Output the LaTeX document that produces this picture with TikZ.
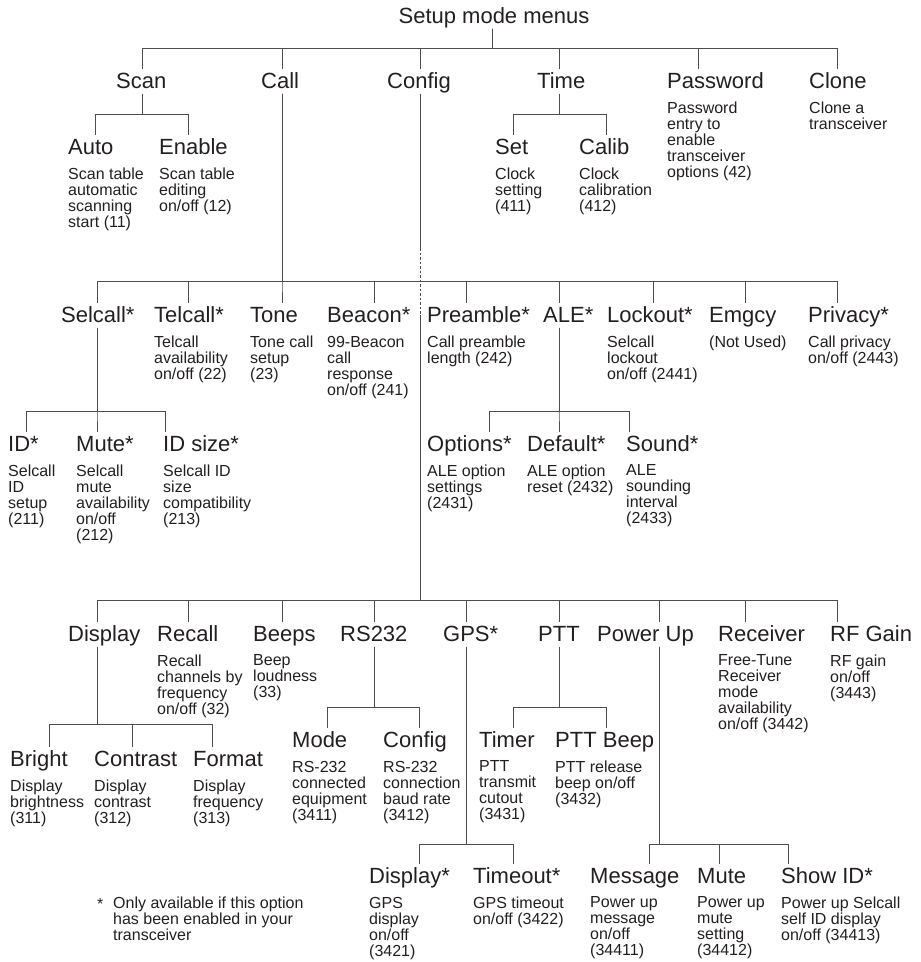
\documentclass[tikz,border=0pt]{standalone}
\usepackage{fontspec}
\setmainfont{Liberation Sans}
\usepackage{tikz}
\usetikzlibrary{positioning}
\definecolor{ink}{HTML}{231F20}

\begin{document}
\begin{tikzpicture}[
  x=1pt, y=1pt,
  hd/.style={anchor=base west, inner xsep=0pt, inner ysep=3pt, text height=16pt, text depth=2.5pt, font=\fontsize{22}{24}\selectfont, text=ink},
  ds/.style={inner sep=0pt, align=left, font=\fontsize{16}{16}\selectfont, text=ink},
  ln/.style={draw=ink!80, line width=0.8pt}
]
  \useasboundingbox (0,0) rectangle (921,-962);

  \node[hd, anchor=base] (title) at (494,-23) {Setup mode menus};
  \node[hd] (scan) at (116,-88) {Scan};
  \node[hd] (call) at (261,-88) {Call};
  \node[hd] (config) at (387,-88) {Config};
  \node[hd] (time) at (537,-88) {Time};
  \node[hd] (password) at (667,-88) {Password};
  \node[hd] (clone) at (809,-88) {Clone};
  \node[ds, below right=8pt and 0pt of password.south west] (passwordd) {Password\\entry to\\enable\\transceiver\\options (42)};
  \node[ds, below right=8pt and 0pt of clone.south west] (cloned) {Clone a\\transceiver};

  \node[hd] (auto) at (68,-154) {Auto};
  \node[hd] (enable) at (159,-154) {Enable};
  \node[hd] (set) at (495,-154) {Set};
  \node[hd] (calib) at (579,-154) {Calib};
  \node[ds, below right=8pt and 0pt of auto.south west] (autod) {Scan table\\automatic\\scanning\\start (11)};
  \node[ds, below right=8pt and 0pt of enable.south west] (enabled) {Scan table\\editing\\on/off (12)};
  \node[ds, below right=8pt and 0pt of set.south west] (setd) {Clock\\setting\\(411)};
  \node[ds, below right=8pt and 0pt of calib.south west] (calibd) {Clock\\calibration\\(412)};

  \node[hd] (selcall) at (61,-322) {Selcall*};
  \node[hd] (telcall) at (154,-322) {Telcall*};
  \node[hd] (tone) at (250,-322) {Tone};
  \node[hd] (beacon) at (327,-322) {Beacon*};
  \node[hd] (preamble) at (427,-322) {Preamble*};
  \node[hd] (ale) at (543,-322) {ALE*};
  \node[hd] (lockout) at (607,-322) {Lockout*};
  \node[hd] (emgcy) at (709,-322) {Emgcy};
  \node[hd] (privacy) at (808,-322) {Privacy*};
  \node[ds, below right=8pt and 0pt of telcall.south west] (telcalld) {Telcall\\availability\\on/off (22)};
  \node[ds, below right=8pt and 0pt of tone.south west] (toned) {Tone call\\setup\\(23)};
  \node[ds, below right=8pt and 0pt of beacon.south west] (beacond) {99-Beacon\\call\\response\\on/off (241)};
  \node[ds, below right=8pt and 0pt of preamble.south west] (preambled) {Call preamble\\length (242)};
  \node[ds, below right=8pt and 0pt of lockout.south west] (lockoutd) {Selcall\\lockout\\on/off (2441)};
  \node[ds, below right=8pt and 0pt of emgcy.south west] (emgcyd) {(Not Used)};
  \node[ds, below right=8pt and 0pt of privacy.south west] (privacyd) {Call privacy\\on/off (2443)};

  \node[hd] (id) at (8,-451) {ID*};
  \node[hd] (mute) at (76,-451) {Mute*};
  \node[hd] (idsize) at (163,-451) {ID size*};
  \node[hd] (options) at (427,-451) {Options*};
  \node[hd] (default) at (527,-451) {Default*};
  \node[hd] (sound) at (626,-451) {Sound*};
  \node[ds, below right=8pt and 0pt of id.south west] (idd) {Selcall\\ID\\setup\\(211)};
  \node[ds, below right=8pt and 0pt of mute.south west] (muted) {Selcall\\mute\\availability\\on/off\\(212)};
  \node[ds, below right=8pt and 0pt of idsize.south west] (idsized) {Selcall ID\\size\\compatibility\\(213)};
  \node[ds, below right=8pt and 0pt of options.south west] (optionsd) {ALE option\\settings\\(2431)};
  \node[ds, below right=8pt and 0pt of default.south west] (defaultd) {ALE option\\reset (2432)};
  \node[ds, below right=8pt and 0pt of sound.south west] (soundd) {ALE\\sounding\\interval\\(2433)};

  \node[hd] (display) at (68,-641) {Display};
  \node[hd] (recall) at (157,-641) {Recall};
  \node[hd] (beeps) at (253,-641) {Beeps};
  \node[hd] (rs232) at (340,-641) {RS232};
  \node[hd] (gps) at (443,-641) {GPS*};
  \node[hd] (ptt) at (538,-641) {PTT};
  \node[hd] (powerup) at (597,-641) {Power Up};
  \node[hd] (receiver) at (718,-641) {Receiver};
  \node[hd] (rfgain) at (830,-641) {RF Gain};
  \node[ds, below right=8pt and 0pt of recall.south west] (recalld) {Recall\\channels by\\frequency\\on/off (32)};
  \node[ds, below right=8pt and 0pt of beeps.south west] (beepsd) {Beep\\loudness\\(33)};
  \node[ds, below right=8pt and 0pt of receiver.south west] (receiverd) {Free-Tune\\Receiver\\mode\\availability\\on/off (3442)};
  \node[ds, below right=8pt and 0pt of rfgain.south west] (rfgaind) {RF gain\\on/off\\(3443)};

  \node[hd] (bright) at (10,-766) {Bright};
  \node[hd] (contrast) at (94,-766) {Contrast};
  \node[hd] (format) at (193,-766) {Format};
  \node[hd] (mode) at (292,-747) {Mode};
  \node[hd] (rsconfig) at (383,-747) {Config};
  \node[hd] (timer) at (479,-747) {Timer};
  \node[hd] (pttbeep) at (555,-747) {PTT Beep};
  \node[ds, below right=8pt and 0pt of bright.south west] (brightd) {Display\\brightness\\(311)};
  \node[ds, below right=8pt and 0pt of contrast.south west] (contrastd) {Display\\contrast\\(312)};
  \node[ds, below right=8pt and 0pt of format.south west] (formatd) {Display\\frequency\\(313)};
  \node[ds, below right=8pt and 0pt of mode.south west] (moded) {RS-232\\connected\\equipment\\(3411)};
  \node[ds, below right=8pt and 0pt of rsconfig.south west] (rsconfigd) {RS-232\\connection\\baud rate\\(3412)};
  \node[ds, below right=8pt and 0pt of timer.south west] (timerd) {PTT\\transmit\\cutout\\(3431)};
  \node[ds, below right=8pt and 0pt of pttbeep.south west] (pttbeepd) {PTT release\\beep on/off\\(3432)};

  \node[hd] (gpsdisplay) at (369,-883) {Display*};
  \node[hd] (timeout) at (473,-883) {Timeout*};
  \node[hd] (message) at (590,-883) {Message};
  \node[hd] (pumute) at (697,-883) {Mute};
  \node[hd] (showid) at (781,-883) {Show ID*};
  \node[ds, below right=8pt and 0pt of gpsdisplay.south west] (gpsdisplayd) {GPS\\display\\on/off\\(3421)};
  \node[ds, below right=8pt and 0pt of timeout.south west] (timeoutd) {GPS timeout\\on/off (3422)};
  \node[ds, below right=8pt and 0pt of message.south west] (messaged) {Power up\\message\\on/off\\(34411)};
  \node[ds, below right=8pt and 0pt of pumute.south west] (pumuted) {Power up\\mute\\setting\\(34412)};
  \node[ds, below right=8pt and 0pt of showid.south west] (showidd) {Power up Selcall\\self ID display\\on/off (34413)};

  \node[ds, anchor=north west] (note) at (113,-897) {Only available if this option\\has been enabled in your\\transceiver};
  \node[ds, anchor=base west] (star) at (97,-909) {*};

  \draw[ln] (title.south -| 492,0) -- ++(0,-19.5) -| (scan.north -| 142,0);
  \draw[ln] (title.south -| 492,0) -- ++(0,-19.5) -| (call.north -| 282,0);
  \draw[ln] (title.south -| 492,0) -- ++(0,-19.5) -| (config.north -| 420,0);
  \draw[ln] (title.south -| 492,0) -- ++(0,-19.5) -| (time.north -| 559,0);
  \draw[ln] (title.south -| 492,0) -- ++(0,-19.5) -| (password.north -| 698,0);
  \draw[ln] (title.south -| 492,0) -- ++(0,-19.5) -| (clone.north -| 837,0);

  \draw[ln] (scan.south -| 142,0) -- ++(0,-20.5) -| (auto.north -| 95,0);
  \draw[ln] (scan.south -| 142,0) -- ++(0,-20.5) -| (enable.north -| 188,0);
  \draw[ln] (time.south -| 559,0) -- ++(0,-20.5) -| (set.north -| 513,0);
  \draw[ln] (time.south -| 559,0) -- ++(0,-20.5) -| (calib.north -| 606,0);

  \draw[ln] (call.south -| 282,0) -- ++(0,-187.5) -| (selcall.north -| 97,0);
  \draw[ln] (call.south -| 282,0) -- ++(0,-187.5) -| (telcall.north -| 188,0);
  \draw[ln] (call.south -| 282,0) -- ++(0,-187.5) -| (tone.north -| 282,0);
  \draw[ln] (call.south -| 282,0) -- ++(0,-187.5) -| (beacon.north -| 374,0);
  \draw[ln] (call.south -| 282,0) -- ++(0,-187.5) -| (preamble.north -| 466,0);
  \draw[ln] (call.south -| 282,0) -- ++(0,-187.5) -| (ale.north -| 559,0);
  \draw[ln] (call.south -| 282,0) -- ++(0,-187.5) -| (lockout.north -| 653,0);
  \draw[ln] (call.south -| 282,0) -- ++(0,-187.5) -| (emgcy.north -| 745,0);
  \draw[ln] (call.south -| 282,0) -- ++(0,-187.5) -| (privacy.north -| 837,0);

  \draw[ln] (selcall.south -| 97,0) -- ++(0,-83.5) -| (id.north -| 26,0);
  \draw[ln] (selcall.south -| 97,0) -- ++(0,-83.5) -| (mute.north -| 97,0);
  \draw[ln] (selcall.south -| 97,0) -- ++(0,-83.5) -| (idsize.north -| 165,0);
  \draw[ln] (ale.south -| 559,0) -- ++(0,-83.5) -| (options.north -| 489,0);
  \draw[ln] (ale.south -| 559,0) -- ++(0,-83.5) -| (default.north -| 559,0);
  \draw[ln] (ale.south -| 559,0) -- ++(0,-83.5) -| (sound.north -| 629,0);

  \draw[ln] (config.south -| 420,0) -- ++(0,-154.5) coordinate (cross1);
  \draw[ln, dash pattern=on 2.5pt off 2pt] (cross1) -- ++(0,-67) coordinate (cross2);
  \draw[ln] (cross2) -- ++(0,-285) -| (display.north -| 97,0);
  \draw[ln] (cross2) -- ++(0,-285) -| (recall.north -| 188,0);
  \draw[ln] (cross2) -- ++(0,-285) -| (beeps.north -| 282,0);
  \draw[ln] (cross2) -- ++(0,-285) -| (rs232.north -| 374,0);
  \draw[ln] (cross2) -- ++(0,-285) -| (gps.north -| 466,0);
  \draw[ln] (cross2) -- ++(0,-285) -| (ptt.north -| 559,0);
  \draw[ln] (cross2) -- ++(0,-285) -| (powerup.north -| 659,0);
  \draw[ln] (cross2) -- ++(0,-285) -| (receiver.north -| 745,0);
  \draw[ln] (cross2) -- ++(0,-285) -| (rfgain.north -| 837,0);

  \draw[ln] (display.south -| 97,0) -- ++(0,-77.5) -| (bright.north -| 49,0);
  \draw[ln] (display.south -| 97,0) -- ++(0,-77.5) -| (contrast.north -| 132,0);
  \draw[ln] (display.south -| 97,0) -- ++(0,-77.5) -| (format.north -| 212,0);
  \draw[ln] (rs232.south -| 374,0) -- ++(0,-60.5) -| (mode.north -| 327,0);
  \draw[ln] (rs232.south -| 374,0) -- ++(0,-60.5) -| (rsconfig.north -| 419,0);
  \draw[ln] (ptt.south -| 559,0) -- ++(0,-60.5) -| (timer.north -| 513,0);
  \draw[ln] (ptt.south -| 559,0) -- ++(0,-60.5) -| (pttbeep.north -| 606,0);

  \draw[ln] (gps.south -| 466,0) -- ++(0,-197.5) -| (gpsdisplay.north -| 419,0);
  \draw[ln] (gps.south -| 466,0) -- ++(0,-197.5) -| (timeout.north -| 513,0);
  \draw[ln] (powerup.south -| 659,0) -- ++(0,-197.5) -| (message.north -| 649,0);
  \draw[ln] (powerup.south -| 659,0) -- ++(0,-197.5) -| (pumute.north -| 719,0);
  \draw[ln] (powerup.south -| 659,0) -- ++(0,-197.5) -| (showid.north -| 788,0);
\end{tikzpicture}
\end{document}
